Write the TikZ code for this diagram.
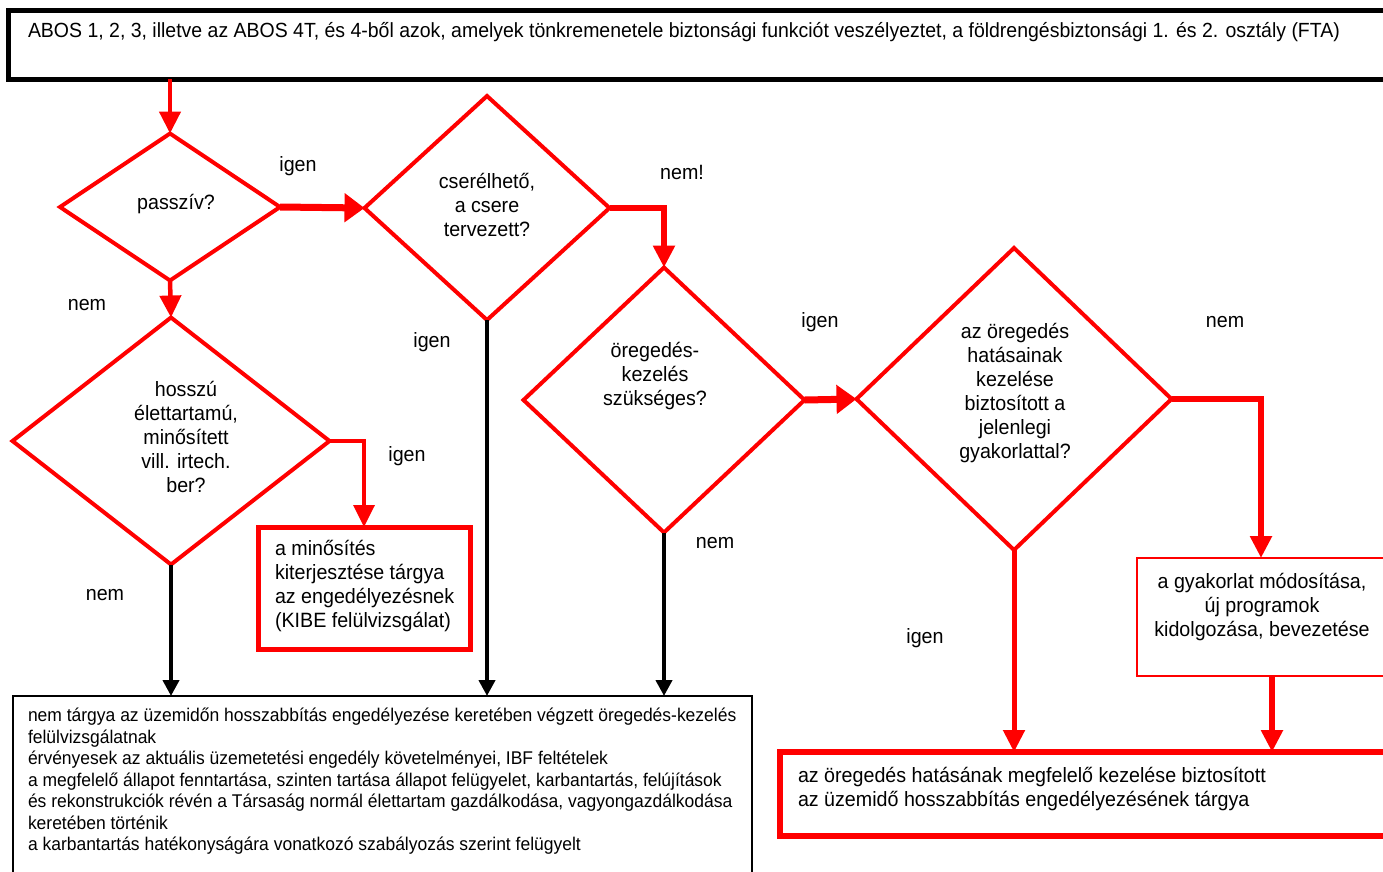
\documentclass[tikz,border=0pt]{standalone}
\usepackage{fontspec}
\setmainfont{Liberation Sans}[FakeStretch=0.95]
\usetikzlibrary{shapes.geometric,arrows.meta,calc}
\begin{document}
\begin{tikzpicture}[x=1pt,y=-1pt,
  every node/.style={font=\fontsize{20.7}{24}\selectfont, inner sep=0pt, outer sep=0pt},
  dia/.style={shape=diamond, draw=red, line width=4pt},
  dtext/.style={align=center},
  lbl/.style={anchor=center},
  rarr/.style={draw=red, line width=#1, -{Triangle[width=21pt,length=22pt]}},
  rarr/.default=4.5pt,
  rthick/.style={draw=red, line width=#1, -{Triangle[width=28pt,length=20pt]}},
  rthick/.default=7pt,
  barr/.style={draw=black, line width=4pt, -{Triangle[width=16pt,length=16pt]}},
  smalltext/.style={font=\fontsize{18.4}{21.5}\selectfont, align=left}
]
\useasboundingbox[fill=white] (0,0) rectangle (1383,871);

% top box
\node[draw=black, line width=5pt, minimum width=1400pt, minimum height=69pt, anchor=north west] (top) at (8,10) {};
\node[anchor=west, font=\fontsize{20.5}{24}\selectfont] (topT) at (28,32) {ABOS 1, 2, 3, illetve az ABOS 4T, és 4-ből azok, amelyek tönkremenetele biztonsági funkciót veszélyeztet, a földrengésbiztonsági 1. és 2. osztály (FTA)};

% diamonds
\node[dia, minimum width=220pt, minimum height=147pt] (pass) at (170,207) {};
\node[dtext] (passT) at (176,204) {passzív?};
\node[dia, minimum width=245pt, minimum height=224pt] (cser) at (487,208) {};
\node[dtext] (cserT) at (487,205) {cserélhető,\\a csere\\tervezett?};
\node[dia, minimum width=281pt, minimum height=265pt] (oreg) at (664,400) {};
\node[dtext] (oregT) at (655,376) {öregedés-\\kezelés\\szükséges?};
\node[dia, minimum width=315pt, minimum height=302pt] (big) at (1014,399) {};
\node[dtext] (bigT) at (1015,393) {az öregedés\\hatásainak\\kezelése\\biztosított a\\jelenlegi\\gyakorlattal?};
\node[dia, minimum width=317pt, minimum height=247pt] (hossz) at (171,441) {};
\node[dtext] (hosszT) at (186,437) {hosszú\\élettartamú,\\minősített\\vill. irtech.\\ber?};

% boxes
\node[draw=red, line width=5pt, minimum width=212pt, minimum height=122pt] (kibe) at (364,588) {};
\node[align=left, anchor=west] (kibeT) at (275,586) {a minősítés\\kiterjesztése tárgya\\az engedélyezésnek\\(KIBE felülvizsgálat)};
\node[draw=red, line width=2.5pt, minimum width=248pt, minimum height=118pt] (gyak) at (1261,617) {};
\node[dtext] (gyakT) at (1262,607) {a gyakorlat módosítása,\\új programok\\kidolgozása, bevezetése};
\node[draw=red, line width=6pt, minimum width=620pt, minimum height=84pt, anchor=north west] (br) at (780,752) {};
\node[align=left, anchor=west] (brT) at (798,789.5) {az öregedés hatásának megfelelő kezelése biztosított\\az üzemidő hosszabbítás engedélyezésének tárgya};
\node[draw=black, line width=1.5pt, minimum width=739pt, minimum height=200pt, anchor=north west] (bl) at (13,696) {};
\node[smalltext, anchor=north west] (blT) at (28,708) {nem tárgya az üzemidőn hosszabbítás engedélyezése keretében végzett öregedés-kezelés\\felülvizsgálatnak\\érvényesek az aktuális üzemetetési engedély követelményei, IBF feltételek\\a megfelelő állapot fenntartása, szinten tartása állapot felügyelet, karbantartás, felújítások\\és rekonstrukciók révén a Társaság normál élettartam gazdálkodása, vagyongazdálkodása\\keretében történik\\a karbantartás hatékonyságára vonatkozó szabályozás szerint felügyelt};

% labels
\node[lbl] (l1) at (298,166) {igen};
\node[lbl] (l2) at (682,172) {nem!};
\node[lbl] (l3) at (87,305) {nem};
\node[lbl] (l4) at (432,342) {igen};
\node[lbl] (l5) at (820,322) {igen};
\node[lbl] (l6) at (1225,322) {nem};
\node[lbl] (l7) at (407,456) {igen};
\node[lbl] (l8) at (715,543) {nem};
\node[lbl] (l9) at (105,595) {nem};
\node[lbl] (l10) at (925,638) {igen};

% connectors
\draw[rarr] (pass.north |- top.south) -- (pass.north);
\draw[rthick] (pass.east) -- (cser.west);
\draw[rarr=6pt] (cser.east) -| (oreg.north);
\draw[rthick] (oreg.east) -- (big.west);
\draw[rarr=6pt] (big.east) -| (gyak.north);
\coordinate (g1) at ([xshift=11pt]gyak.south);
\draw[rarr=6pt] (g1) -- (g1 |- br.north);
\draw[rarr=5pt] (big.south) -- (big.south |- br.north);
\draw[rarr] (pass.south) -- (hossz.north);
\draw[rarr=3.5pt] (hossz.east) -| (kibe.north);
\draw[barr] (hossz.south) -- (hossz.south |- bl.north);
\draw[barr] (cser.south) -- (cser.south |- bl.north);
\draw[barr] (oreg.south) -- (oreg.south |- bl.north);
\end{tikzpicture}
\end{document}
